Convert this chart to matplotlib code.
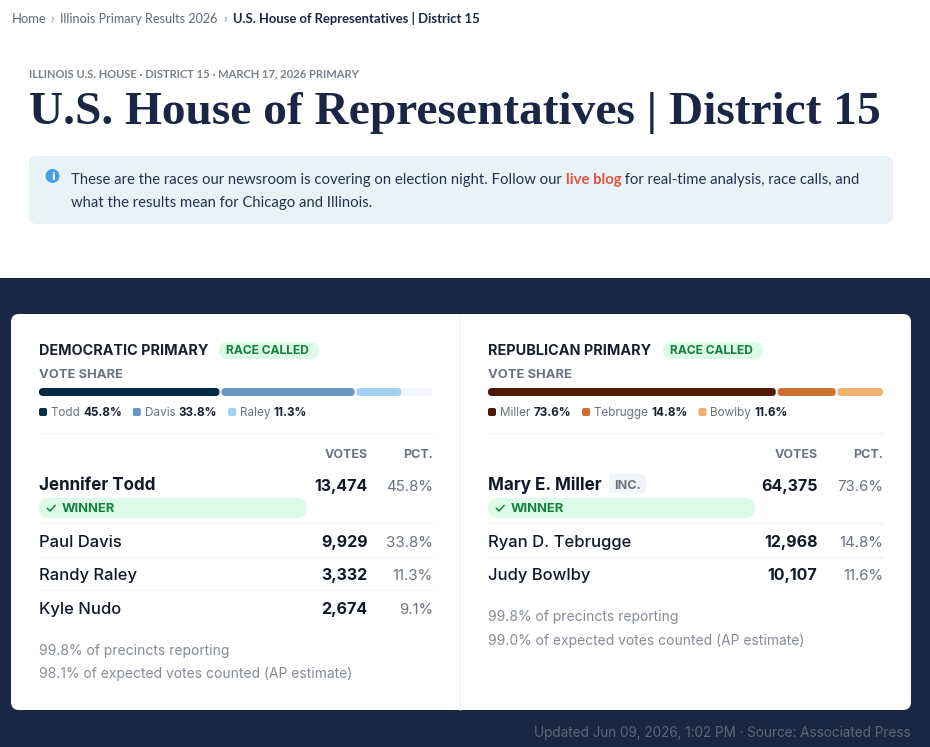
import matplotlib
matplotlib.use("Agg")
import matplotlib.pyplot as plt
from matplotlib.patches import FancyBboxPatch, Circle, Rectangle

dem_names = ["Jennifer Todd", "Paul Davis", "Randy Raley", "Kyle Nudo"]
dem_short = ["Todd", "Davis", "Raley"]
dem_votes = [13474, 9929, 3332, 2674]
dem_pct = [45.8, 33.8, 11.3, 9.1]
dem_colors = ["#002b45", "#6699c2", "#a0d0f2"]
dem_notes = ["99.8% of precincts reporting", "98.1% of expected votes counted (AP estimate)"]

rep_names = ["Mary E. Miller", "Ryan D. Tebrugge", "Judy Bowlby"]
rep_short = ["Miller", "Tebrugge", "Bowlby"]
rep_votes = [64375, 12968, 10107]
rep_pct = [73.6, 14.8, 11.6]
rep_colors = ["#4f1900", "#d07030", "#f0b070"]
rep_notes = ["99.8% of precincts reporting", "99.0% of expected votes counted (AP estimate)"]

NAVY = "#1a2744"
INK = "#111827"
GREY = "#6b7280"
GREEN = "#15803d"
MINT = "#dcfce7"
RULE = "#eff1f5"
SANS = "Inter"
BODY = "Lato"
SERIF = "Liberation Serif"

fig = plt.figure(figsize=(9.3, 7.47), dpi=100, facecolor="white")
ax = fig.add_axes([0, 0, 1, 1])
ax.set_xlim(0, 930)
ax.set_ylim(747, 0)
ax.axis("off")
renderer = fig.canvas.get_renderer()


def txt(x, y, s, px, color=INK, weight="normal", ha="left", font=SANS):
    return ax.text(x, y, s, fontsize=px * 0.72, color=color, fontweight=weight,
                   ha=ha, va="baseline", family=font)


def flow(x, y, parts, px, font=SANS):
    # consecutive runs of text on one line, returns the end x
    for s, color, weight in parts:
        t = txt(x, y, s, px, color, weight, font=font)
        x += t.get_window_extent(renderer).width
    return x


def rbox(x, y, w, h, r, color, z=1):
    p = FancyBboxPatch((x + r, y + r), w - 2 * r, h - 2 * r,
                       boxstyle=f"round,pad={r},rounding_size={r}",
                       facecolor=color, edgecolor="none", zorder=z)
    ax.add_patch(p)


def rule(x0, x1, y, color=RULE):
    ax.plot([x0, x1], [y, y], color=color, lw=0.9, solid_capstyle="butt", zorder=1)


def panel(x0, x1, title, title_w, names, short, votes, pct, colors, notes, notes_y, inc_x=None):
    txt(x0, 355, title, 14.4, "#1a2030", "bold")
    pill_x = x0 + title_w
    rbox(pill_x, 342, 100, 17, 8.5, MINT)
    txt(pill_x + 7, 354, "RACE CALLED", 12, GREEN, "bold")
    txt(x0, 378, "VOTE SHARE", 13, GREY, "bold")

    # stacked share bar, gaps squeeze the segments when the row is full
    width = x1 - x0
    gap = 2
    rbox(x0, 388, width, 8, 4, "#f1f4f8")
    scale = min(1, (width - gap * (len(short) - 1)) / (width * sum(pct[:3]) / 100))
    left = x0
    for p, c in zip(pct, colors):
        seg = width * p / 100 * scale
        rbox(left, 388, seg, 8, 4, c, z=2)
        left += seg + gap

    # legend under the bar
    lx = x0
    for s, p, c in zip(short, pct, colors):
        rbox(lx, 408, 8, 8, 2, c)
        end = flow(lx + 12, 416, [(s + " ", GREY, "normal"), (f"{p}%", "#1a2030", "bold")], 11.7)
        lx = end + 10.8

    rule(x0, x1, 433)
    txt(x1 - 65.5, 458, "VOTES", 12.5, GREY, "bold", ha="right")
    txt(x1, 458, "PCT.", 12.5, GREY, "bold", ha="right")

    for i, name in enumerate(names):
        if i == 0:
            y = 490
            txt(x0, y, name, 17, INK, "bold")
            rbox(x0, 498, 267.5, 20, 10, MINT)
            ax.plot([x0 + 8.5, x0 + 11, x0 + 16], [508.5, 511, 505.5], color=GREEN, lw=1.1, zorder=3)
            txt(x0 + 23, 512, "WINNER", 13, GREEN, "bold")
        else:
            y = 547 + 33.4 * (i - 1)
            txt(x0, y, name, 16.6, INK, "medium")
        txt(x1 - 65.5, y + (1 if i == 0 else 0), f"{votes[i]:,}", 16, INK, "bold", ha="right")
        txt(x1, y + (1 if i == 0 else 0), f"{pct[i]}%", 15, GREY, ha="right")
        if i < len(names) - 1:
            rule(x0, x1, 523 + 33.5 * i)

    if inc_x is not None:
        rbox(inc_x, 474, 37, 19, 3, "#f1f4f8")
        txt(inc_x + 5, 489, "INC.", 12.6, GREY, "bold")

    for y, note in zip(notes_y, notes):
        txt(x0, y, note, 13.85, "#868c97")


# page header
txt(12, 23, "Home", 13, "#5f6875", font=BODY)
txt(50, 23, "›", 13, "#8a8f99", font=BODY)
txt(60, 23, "Illinois Primary Results 2026", 12.6, "#5f6875", font=BODY)
txt(223, 23, "›", 13, "#8a8f99", font=BODY)
txt(233, 23, "U.S. House of Representatives | District 15", 13, NAVY, "bold", font=BODY)

txt(29, 77, "ILLINOIS U.S. HOUSE · DISTRICT 15 · MARCH 17, 2026 PRIMARY", 11.1, "#7a808a", "bold", font=BODY)
txt(29, 124, "U.S. House of Representatives | District 15", 47.4, NAVY, "bold", font=SERIF)

rbox(29, 156, 864, 68, 8, "#e8f3f8")
ax.add_patch(Circle((52.5, 176), 7, facecolor="#4a9fe0", edgecolor="none", zorder=2))
txt(52.5, 180, "i", 10.5, "white", "bold", ha="center", font="DejaVu Sans").set_zorder(3)
flow(71, 184, [("These are the races our newsroom is covering on election night. Follow our ", "#24324f", "normal"),
               ("live blog", "#e8503a", "bold"),
               (" for real-time analysis, race calls, and", "#24324f", "normal")], 14.9, BODY)
txt(71, 207, "what the results mean for Chicago and Illinois.", 14.9, "#24324f", font=BODY)

# dark band and results card
ax.add_patch(Rectangle((0, 278), 930, 469, facecolor=NAVY, edgecolor="none", zorder=0))
rbox(11, 314, 900, 396, 8, "white", z=0.5)
ax.plot([460, 460], [314, 710], color=RULE, lw=1, solid_capstyle="butt", zorder=1)

panel(39, 433, "DEMOCRATIC PRIMARY", 180, dem_names, dem_short, dem_votes, dem_pct, dem_colors,
      dem_notes, [655, 678])
panel(488, 883, "REPUBLICAN PRIMARY", 175, rep_names, rep_short, rep_votes, rep_pct, rep_colors,
      rep_notes, [621, 645], inc_x=609)

txt(911, 737, "Updated Jun 09, 2026, 1:02 PM · Source: Associated Press", 13.55, "#5e6778", ha="right")

fig.savefig("out.png", dpi=100, facecolor="white")
